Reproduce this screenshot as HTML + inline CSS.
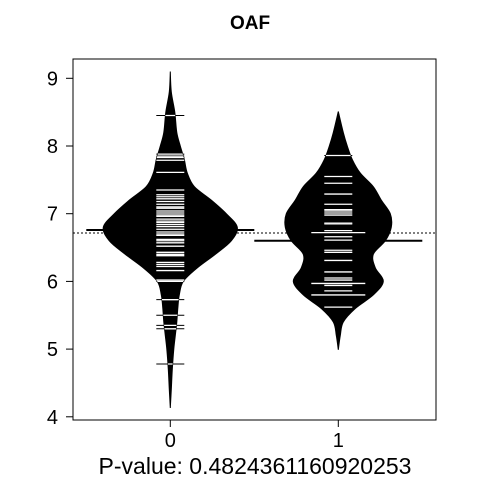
<!DOCTYPE html>
<html><head><meta charset="utf-8"><style>
html,body{margin:0;padding:0;background:#fff;}
svg{display:block;font-family:"Liberation Sans",Arial,sans-serif;}
</style></head><body>
<svg id="chart" width="480" height="480" viewBox="0 0 480 480">
<text x="250" y="29" text-anchor="middle" font-size="19" font-weight="bold">OAF</text>
<text x="255" y="474" text-anchor="middle" font-size="23">P-value: 0.4824361160920253</text>
<g id="plot"></g>
</svg>
<script>
const categories = ["0", "1"];
const yTicks = [4, 5, 6, 7, 8, 9];
const overallMean = 6.715;
const groupMeans = [6.76, 6.60];
const densityValues0 = [9.1, 8.8, 8.5, 8.2, 8.0, 7.8, 7.6, 7.4, 7.2, 7.0, 6.8, 6.6, 6.4, 6.2, 6.0, 5.8, 5.6, 5.4, 5.2, 5.0, 4.7, 4.4, 4.13];
const densityWidths0 = [0, 1, 4.5, 6.5, 10, 14, 17, 24, 41, 56, 67, 61, 45, 27, 13, 9, 7.5, 6.5, 5, 3.5, 2, 1, 0];
const densityValues1 = [8.51, 8.2, 8.0, 7.8, 7.6, 7.4, 7.2, 7.0, 6.8, 6.6, 6.4, 6.2, 6.0, 5.8, 5.6, 5.4, 5.2, 4.99];
const densityWidths1 = [0, 5, 9, 14, 22, 35, 43, 52, 53, 47, 35, 37, 45, 35, 17, 5, 2, 0];
const points0 = [8.45, 7.88, 7.85, 7.83, 7.79, 7.61, 7.35, 7.28, 7.25, 7.22, 7.18, 7.14, 7.10, 7.08, 7.04, 7.01, 6.98, 6.96, 6.92, 6.89, 6.87, 6.84, 6.81, 6.77, 6.73, 6.70, 6.68, 6.62, 6.60, 6.57, 6.52, 6.43, 6.40, 6.38, 6.28, 6.25, 6.22, 6.16, 6.02, 6.00, 5.73, 5.50, 5.35, 5.30, 4.78];
const points1 = [7.86, 7.55, 7.45, 7.29, 7.14, 7.06, 7.04, 7.01, 6.98, 6.86, 6.85, 6.75, 6.72, 6.66, 6.61, 6.46, 6.43, 6.31, 6.14, 6.05, 6.02, 5.97, 5.94, 5.86, 5.80, 5.62];
const multiples1 = [6.72, 5.97, 5.80];

const NS = "http://www.w3.org/2000/svg";
const box = {l: 73, r: 436, t: 59, b: 420};
const xPos = i => 170.3 + i * 168;
const yPos = v => 78.3 + (9 - v) * 67.7;
const plot = document.getElementById('plot');
function mk(tag, attrs, parent) {
  const e = document.createElementNS(NS, tag);
  for (const k in attrs) e.setAttribute(k, attrs[k]);
  (parent || plot).appendChild(e);
  return e;
}
function smooth(p) {
  let d = 'M' + p[0][0] + ',' + p[0][1];
  for (let i = 0; i < p.length - 1; i++) {
    const p0 = p[Math.max(0, i - 1)], p1 = p[i], p2 = p[i + 1], p3 = p[Math.min(p.length - 1, i + 2)];
    const c1 = [p1[0] + (p2[0] - p0[0]) / 6, p1[1] + (p2[1] - p0[1]) / 6];
    const c2 = [p2[0] - (p3[0] - p1[0]) / 6, p2[1] - (p3[1] - p1[1]) / 6];
    d += ' C' + c1.join(',') + ' ' + c2.join(',') + ' ' + p2.join(',');
  }
  return d;
}
const defs = mk('defs', {});
const densV = [densityValues0, densityValues1];
const densW = [densityWidths0, densityWidths1];
const pts = [points0, points1];

const om = mk('line', {x1: box.l, x2: box.r, y1: yPos(overallMean), y2: yPos(overallMean), stroke: '#000', 'stroke-width': 1, 'stroke-dasharray': '2,2'});



categories.forEach((c, i) => {
  const cx = xPos(i);
  const vs = densV[i], ws = densW[i];
  const right = vs.map((v, k) => [cx + ws[k], yPos(v)]);
  const left = vs.map((v, k) => [cx - ws[k], yPos(v)]).reverse();
  const d = smooth(right) + ' L' + smooth(left).slice(1) + ' Z';
  const cp = mk('clipPath', {id: 'clip' + i}, defs);
  mk('path', {d: d}, cp);
  const bean = mk('path', {d: d, fill: '#000', stroke: '#000', 'stroke-width': 1});
  
  
  const ml = mk('line', {x1: cx - 84, x2: cx + 84, y1: yPos(groupMeans[i]), y2: yPos(groupMeans[i]), stroke: '#000', 'stroke-width': 2});
  
  
  pts[i].forEach(v => {
    const hw = (i === 1 && multiples1.includes(v)) ? 27 : 14;
    const y = yPos(v);
    const bl = mk('line', {x1: cx - hw, x2: cx + hw, y1: y, y2: y, stroke: '#000', 'stroke-width': 1});
    
    
    const wl = mk('line', {x1: cx - hw, x2: cx + hw, y1: y, y2: y, stroke: '#fff', 'stroke-width': 1.3, 'clip-path': 'url(#clip' + i + ')'});
    
    
  });
  const xt = mk('line', {x1: cx, x2: cx, y1: box.b, y2: box.b + 7, stroke: '#000'});
  
  
  const xl = mk('text', {x: cx, y: 447, 'text-anchor': 'middle', 'font-size': 20});
  xl.textContent = c;
  
  
});

yTicks.forEach(t => {
  const y = yPos(t);
  const tl = mk('line', {x1: box.l - 7, x2: box.l, y1: y, y2: y, stroke: '#000'});
  
  
  const tx = mk('text', {x: 58, y: y + 7, 'text-anchor': 'end', 'font-size': 20});
  tx.textContent = t;
  
  
});

const frame = mk('rect', {x: box.l, y: box.t, width: box.r - box.l, height: box.b - box.t, fill: 'none', stroke: '#000', 'stroke-width': 1});


</script>
</body></html>
